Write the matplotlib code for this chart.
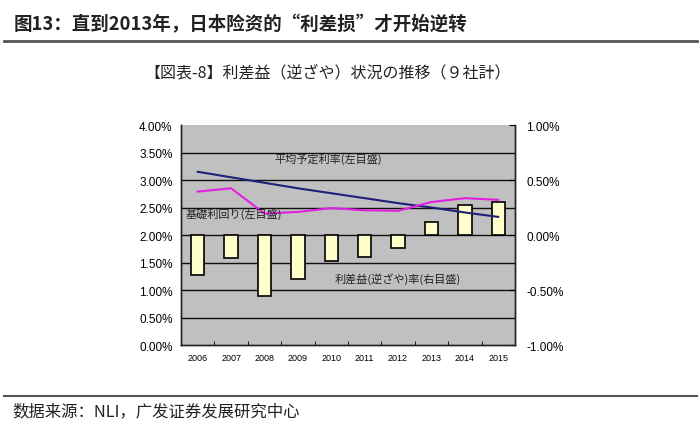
import matplotlib
matplotlib.use('Agg')
import matplotlib.pyplot as plt
from matplotlib.lines import Line2D
from matplotlib.ticker import FuncFormatter, MultipleLocator

plt.rcParams['font.family'] = ['Noto Sans CJK JP', 'DejaVu Sans']

# data
years = ['2006', '2007', '2008', '2009', '2010', '2011', '2012', '2013', '2014', '2015']
spread = [-0.36, -0.21, -0.55, -0.40, -0.24, -0.20, -0.12, 0.12, 0.27, 0.30]   # right axis, %
assumed_rate = [3.15, 3.05, 2.95, 2.85, 2.76, 2.67, 2.58, 2.50, 2.41, 2.33]   # left axis, %
base_yield = [2.79, 2.85, 2.39, 2.42, 2.49, 2.45, 2.44, 2.60, 2.67, 2.64]     # left axis, %

title = '图13：直到2013年，日本险资的“利差损”才开始逆转'
subtitle = '【図表-8】利差益（逆ざや）状況の推移（９社計）'
source = '数据来源：NLI，广发证券发展研究中心'

fig = plt.figure(figsize=(7, 4.39), dpi=100)

# header / footer
fig.text(0.02, 0.944, title, fontsize=13.3, fontweight='bold', color='#222222',
         family=['Noto Sans CJK SC', 'DejaVu Sans'], va='center')
fig.add_artist(Line2D([0.005, 0.995], [0.904, 0.904], color='#555555', lw=2))
fig.add_artist(Line2D([0.005, 0.995], [0.096, 0.096], color='#555555', lw=1.5))
fig.text(0.018, 0.062, source, fontsize=11.8, color='#222222',
         family=['Noto Sans CJK SC', 'DejaVu Sans'], va='center')
fig.text(0.468, 0.834, subtitle, fontsize=11.5, color='#222222', ha='center', va='center')

ax = fig.add_axes([0.2586, 0.2118, 0.477, 0.5011])
x = list(range(len(years)))

ax2 = ax.twinx()
ax.set_zorder(ax2.get_zorder() + 1)
ax.patch.set_visible(False)
ax2.patch.set_visible(True)
ax2.patch.set_facecolor('#c0c0c0')

# grid on left axis values
for v in [0.5, 1.0, 1.5, 2.0, 2.5, 3.0, 3.5]:
    ax2.axhline((v - 2.0) / 2.0, color='#111111', lw=1, zorder=1)

ax2.bar(x, spread, width=0.4, color='#ffffcc', edgecolor='black', lw=1.2, zorder=2)
ax2.set_ylim(-1.0, 1.0)
ax2.yaxis.set_major_locator(MultipleLocator(0.5))
ax2.yaxis.set_major_formatter(FuncFormatter(lambda v, p: f'{v:.2f}%'))

ax.plot(x, assumed_rate, color='#1f1f7a', lw=1.5, zorder=3)
ax.plot(x, base_yield, color='#e020e0', lw=1.5, zorder=3)
ax.set_ylim(0, 4.0)
ax.set_xlim(-0.5, len(years) - 0.5)
ax.yaxis.set_major_locator(MultipleLocator(0.5))
ax.yaxis.set_major_formatter(FuncFormatter(lambda v, p: f'{v:.2f}%'))

ax.set_xticks(x)
ax.set_xticklabels(years, fontsize=6.5, family='Liberation Sans')
ax.tick_params(axis='x', length=0, pad=6)
ax.set_xticks([i + 0.5 for i in x[:-1]], minor=True)
ax.tick_params(axis='x', which='minor', length=3, direction='in')
ax.tick_params(axis='y', length=0, labelsize=8.5, pad=6)
ax2.tick_params(axis='y', length=4, direction='in', labelsize=8.5, pad=8)
ax2.tick_params(axis='x', length=0)
for lab in ax.get_yticklabels() + ax2.get_yticklabels():
    lab.set_family('Liberation Sans')

for a in (ax, ax2):
    for s in a.spines.values():
        s.set_color('#222222')
        s.set_linewidth(1)
    a.spines['top'].set_visible(False)

ax.text(2.3, 3.33, '平均予定利率(左目盛)', fontsize=8, color='#222222')
ax.text(-0.35, 2.33, '基礎利回り(左目盛)', fontsize=8, color='#222222')
ax.text(4.1, 1.15, '利差益(逆ざや)率(右目盛)', fontsize=8, color='#222222')

fig.savefig('out.png', dpi=100)
